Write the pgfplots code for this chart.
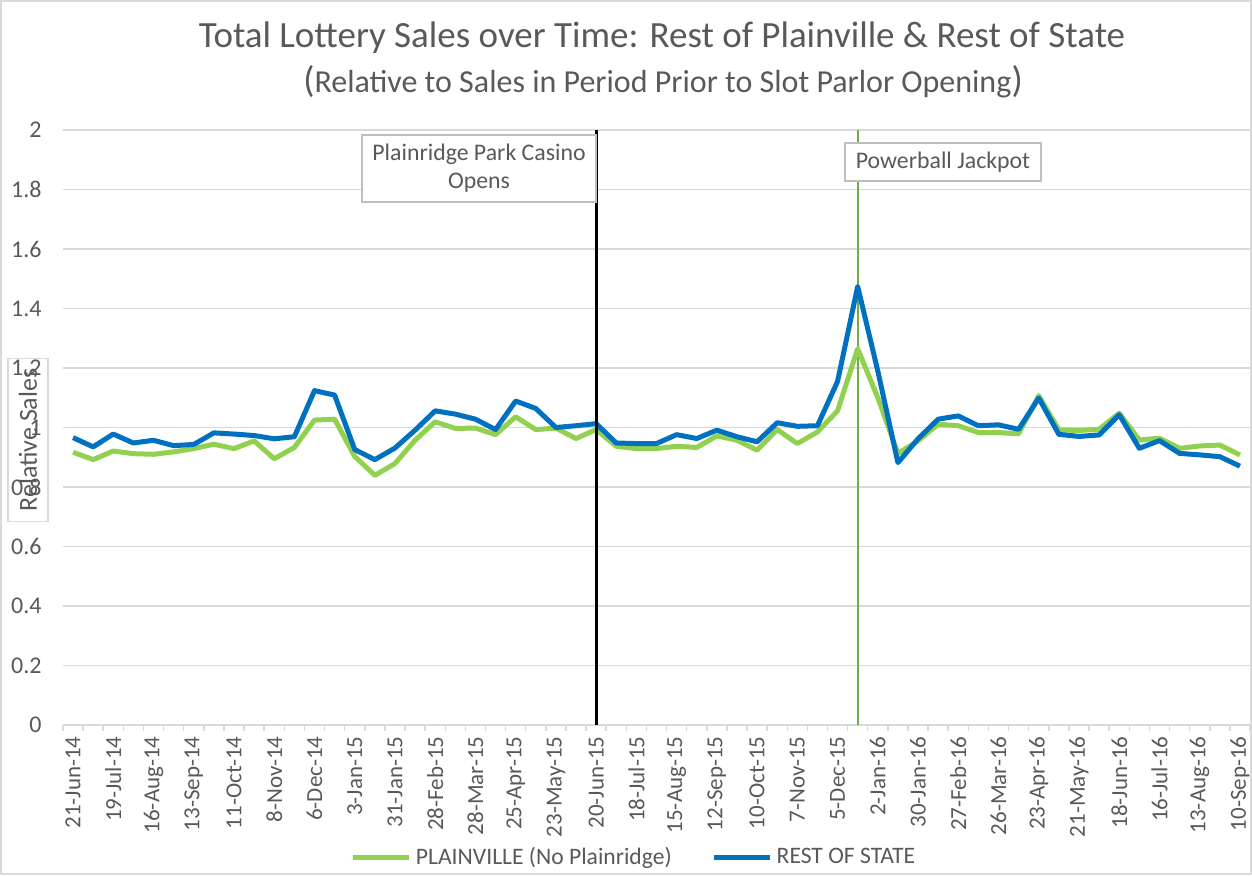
\documentclass[border=0pt]{standalone}
\usepackage{pgfplots}
\pgfplotsset{compat=1.18}
\usepackage{pgfplotstable}
\usepackage{fontspec}
\setmainfont{Carlito}
\definecolor{txt}{HTML}{595959}
\definecolor{gridc}{HTML}{D9D9D9}
\definecolor{blueS}{HTML}{0070C0}
\definecolor{greenS}{HTML}{92D050}
\definecolor{greenV}{HTML}{70AD47}
\definecolor{boxc}{HTML}{BFBFBF}

\pgfplotstableread{
i blue green
0 0.966 0.917
1 0.935 0.892
2 0.978 0.921
3 0.948 0.912
4 0.957 0.910
5 0.939 0.918
6 0.943 0.929
7 0.982 0.944
8 0.978 0.929
9 0.973 0.955
10 0.962 0.895
11 0.969 0.933
12 1.124 1.025
13 1.109 1.028
14 0.926 0.903
15 0.892 0.839
16 0.931 0.879
17 0.991 0.957
18 1.056 1.019
19 1.045 0.997
20 1.028 0.998
21 0.993 0.976
22 1.089 1.036
23 1.064 0.993
24 1.000 0.998
25 1.006 0.963
26 1.013 0.993
27 0.948 0.937
28 0.946 0.929
29 0.946 0.929
30 0.976 0.937
31 0.963 0.933
32 0.991 0.972
33 0.969 0.957
34 0.952 0.924
35 1.016 0.993
36 1.004 0.946
37 1.006 0.985
38 1.155 1.056
39 1.474 1.265
40 1.190 1.100
41 0.882 0.913
42 0.962 0.955
43 1.028 1.011
44 1.039 1.006
45 1.006 0.983
46 1.009 0.983
47 0.994 0.979
48 1.099 1.107
49 0.977 0.992
50 0.970 0.990
51 0.975 0.994
52 1.043 1.048
53 0.930 0.958
54 0.956 0.964
55 0.913 0.930
56 0.908 0.938
57 0.902 0.941
58 0.870 0.908
}\salesdata

\begin{document}
\begin{tikzpicture}
\useasboundingbox (0,0) rectangle (626pt,437.5pt);
\draw[gridc, line width=0.75pt] (0.6pt,0.6pt) rectangle (625.4pt,436.9pt);
\begin{axis}[
  at={(31.5pt,75pt)}, anchor=south west,
  scale only axis, width=593.5pt, height=297.5pt,
  xmin=-0.5, xmax=58.5, ymin=0, ymax=2,
  ytick={0,0.2,0.4,0.6,0.8,1,1.2,1.4,1.6,1.8,2},
  ymajorgrids, grid style={gridc, line width=0.75pt},
  axis x line*=bottom, axis y line*=left,
  y axis line style={draw=none},
  x axis line style={gridc, line width=0.75pt},
  ytick style={draw=none},
  xtick={-0.5,0.5,...,58.5},
  xticklabels={},
  xtick style={gridc, line width=0.75pt},
  tick align=outside, major tick length=3pt,
  /pgf/number format/assume math mode=true,
  yticklabel style={font=\fontsize{12}{12}\selectfont, text=txt, inner sep=0pt},
  yticklabel shift=7.5pt,
  extra x ticks={0,2,...,58},
  extra x tick labels={21-Jun-14,19-Jul-14,16-Aug-14,13-Sep-14,11-Oct-14,8-Nov-14,6-Dec-14,3-Jan-15,31-Jan-15,28-Feb-15,28-Mar-15,25-Apr-15,23-May-15,20-Jun-15,18-Jul-15,15-Aug-15,12-Sep-15,10-Oct-15,7-Nov-15,5-Dec-15,2-Jan-16,30-Jan-16,27-Feb-16,26-Mar-16,23-Apr-16,21-May-16,18-Jun-16,16-Jul-16,13-Aug-16,10-Sep-16},
  extra x tick style={major tick length=0pt, xticklabel style={rotate=90, anchor=east, font=\fontsize{11.5}{12}\selectfont, text=txt, inner sep=0pt}, xticklabel shift=5.5pt},
  legend style={at={(axis description cs:0.482,-0.222)}, anchor=center, draw=none, fill=none, legend columns=2, font=\fontsize{11.8}{12}\selectfont, text=txt, /tikz/every even column/.append style={column sep=18pt}},
  legend image code/.code={\draw[#1] (0pt,0pt) -- (28pt,0pt);},
]
\addplot[greenV, line width=1pt, forget plot] coordinates {(39,0) (39,2)};
\addplot[greenS, line width=2.5pt, line join=round] table[x=i,y=green]{\salesdata};
\addlegendentry{PLAINVILLE (No Plainridge)}
\addplot[blueS, line width=2.5pt, line join=round] table[x=i,y=blue]{\salesdata};
\addlegendentry{REST OF STATE}
\addplot[black, line width=1.5pt, forget plot] coordinates {(26,0) (26,2)};
\end{axis}
\node[anchor=base, text=txt, font=\fontsize{18.5}{20}\selectfont] at (331pt,413.5pt) {Total Lottery Sales over Time: Rest of Plainville \& Rest of State};
\node[anchor=base, text=txt, font=\fontsize{16}{18}\selectfont] at (331.5pt,391pt) {{\fontsize{18.5}{20}\selectfont(}Relative to Sales in Period Prior to Slot Parlor Opening{\fontsize{18.5}{20}\selectfont)}};
\node[rotate=90, draw=gridc, line width=0.75pt, minimum width=81.5pt, minimum height=20pt, text=txt, font=\fontsize{13}{14}\selectfont] at (14pt,217.5pt) {Relative Sales};
\node[draw=boxc, line width=0.75pt, fill=white, minimum width=117pt, minimum height=33.5pt, text=txt, align=center, font=\fontsize{11.9}{14}\selectfont] at (239.5pt,353.25pt) {Plainridge Park Casino\\Opens};
\node[draw=boxc, line width=0.75pt, fill=white, minimum width=98pt, minimum height=19pt, text=txt, font=\fontsize{11.9}{14}\selectfont] at (471.5pt,356.5pt) {Powerball Jackpot};
\end{tikzpicture}
\end{document}
